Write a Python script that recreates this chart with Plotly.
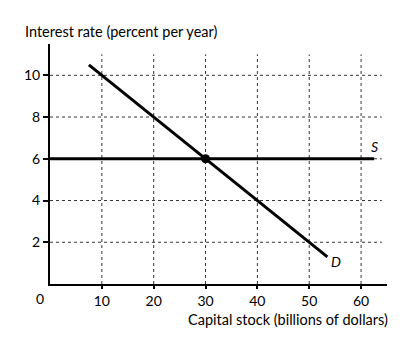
import plotly.graph_objects as go

# Data
supply_x = [0, 62.5]
supply_y = [6, 6]
demand_x = [7.5, 53.5]
demand_y = [10.5, 1.3]
eq_x = [30]
eq_y = [6]
x_ticks = [10, 20, 30, 40, 50, 60]
y_ticks = [2, 4, 6, 8, 10]

FONT = "Lato, 'Open Sans', sans-serif"

fig = go.Figure()

# dotted grid as shapes
shapes = []
for xv in x_ticks:
    shapes.append(dict(type="line", xref="x", yref="y", x0=xv, x1=xv, y0=0, y1=11,
                       line=dict(color="#333", width=1, dash="dot"), layer="below"))
for yv in y_ticks:
    shapes.append(dict(type="line", xref="x", yref="y", x0=0, x1=64, y0=yv, y1=yv,
                       line=dict(color="#333", width=1, dash="dot"), layer="below"))

fig.add_trace(go.Scatter(x=supply_x, y=supply_y, mode="lines",
                         line=dict(color="black", width=3), showlegend=False, hoverinfo="skip"))
fig.add_trace(go.Scatter(x=demand_x, y=demand_y, mode="lines",
                         line=dict(color="black", width=3), showlegend=False, hoverinfo="skip"))
fig.add_trace(go.Scatter(x=eq_x, y=eq_y, mode="markers",
                         marker=dict(color="black", size=9), showlegend=False, hoverinfo="skip"))

annotations = [
    dict(x=62.5, y=6, xref="x", yref="y", text="<i>S</i>", showarrow=False,
         xanchor="center", yanchor="bottom", yshift=2, font=dict(size=14, family=FONT, color="black")),
    dict(x=55.2, y=1.1, xref="x", yref="y", text="<i>D</i>", showarrow=False,
         xanchor="center", yanchor="middle", font=dict(size=14, family=FONT, color="black")),
    dict(x=0, y=0, xref="x", yref="y", text="0", showarrow=False,
         xanchor="center", yanchor="top", xshift=-10, yshift=-4,
         font=dict(size=14, family=FONT, color="black")),
    dict(x=-0.08, y=1.0, xref="paper", yref="paper", text="Interest rate (percent per year)",
         showarrow=False, xanchor="left", yanchor="bottom", yshift=2,
         font=dict(size=14.5, family=FONT, color="black")),
    dict(x=1.01, y=0, xref="paper", yref="paper", text="Capital stock (billions of dollars)",
         showarrow=False, xanchor="right", yanchor="top", yshift=-25,
         font=dict(size=14.5, family=FONT, color="black")),
]

fig.update_layout(
    width=412, height=346,
    margin=dict(l=50, r=25, t=44, b=62),
    paper_bgcolor="white", plot_bgcolor="white",
    shapes=shapes, annotations=annotations,
    font=dict(family=FONT, size=14, color="black"),
    xaxis=dict(range=[0, 65], showgrid=False, zeroline=False, showline=True,
               linecolor="black", linewidth=2, tickvals=x_ticks, ticks="outside",
               ticklen=3, tickwidth=1.5, tickcolor="black", fixedrange=True),
    yaxis=dict(range=[0, 11.5], showgrid=False, zeroline=False, showline=True,
               linecolor="black", linewidth=2, tickvals=y_ticks, ticks="outside",
               ticklen=5, tickwidth=1.5, tickcolor="black", fixedrange=True),
)

fig.write_html("out.html")
